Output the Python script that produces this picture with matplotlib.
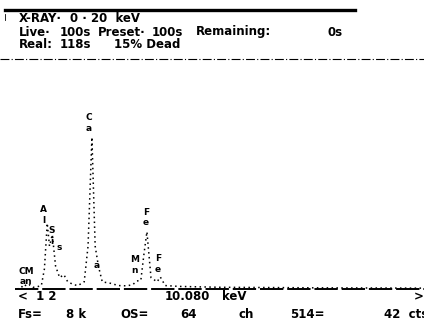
import matplotlib
matplotlib.use("Agg")
import matplotlib.pyplot as plt

# spectrum (keV, counts)
energy = [0.0, 0.2, 0.34, 0.5, 0.64, 0.8, 1.0, 1.2, 1.35, 1.49, 1.6, 1.74, 1.9, 2.1,
          2.31, 2.5, 2.8, 3.0, 3.31, 3.5, 3.69, 3.85, 4.01, 4.2, 4.6, 5.0, 5.4, 5.7,
          5.9, 6.1, 6.25, 6.4, 6.6, 6.9, 7.06, 7.3, 8.0, 10.0, 15.0, 20.0]
counts = [0, 40, 160, 90, 150, 60, 80, 120, 700, 2300, 1500, 1900, 800, 400,
          500, 250, 150, 120, 250, 1500, 5300, 1500, 800, 250, 200, 120, 110, 150,
          280, 300, 1200, 2000, 400, 250, 420, 120, 90, 60, 40, 30]

# peak labels: element text, keV, counts where the label sits
peak_names = ["C\na", "A\nl", "S\ni", "s", "F\ne", "M\nn", "F\ne", "a"]
peak_kev = [3.55, 1.3, 1.7, 2.1, 6.35, 5.8, 6.95, 3.95]
peak_top = [5450, 2250, 1500, 1300, 2150, 500, 520, 650]

hdr_font = {"family": "DejaVu Sans", "size": 8.5, "weight": "bold"}

W, H = 424, 327
fig = plt.figure(figsize=(W / 100, H / 100), dpi=100)
fig.patch.set_facecolor("white")


def px(x, y):
    return x / W, 1 - y / H


# header block
fig.add_artist(plt.Line2D([5 / W, 355 / W], [1 - 10 / H] * 2, color="black", lw=2.4))
fig.add_artist(plt.Line2D([5 / W, 5 / W], [1 - 14 / H, 1 - 20 / H], color="black", lw=0.6))
fig.add_artist(plt.Line2D([0, 1], [1 - 59 / H] * 2, color="black", lw=0.8,
                          ls=(0, (8, 2, 1, 2))))

header = [
    (19, 19, "X-RAY·"), (70, 19, "0 · 20  keV"),
    (19, 32, "Live·"), (60, 32, "100s"), (98, 32, "Preset·"), (152, 32, "100s"),
    (196, 32, "Remaining:"), (328, 32, "0s"),
    (19, 45, "Real:"), (60, 45, "118s"), (114, 45, "15% Dead"),
]
for x, y, s in header:
    fig.text(*px(x, y), s, ha="left", va="center", fontdict=hdr_font)

# spectrum
ax = fig.add_axes([17 / W, 1 - 289 / H, 406 / W, (289 - 70) / H])
ax.plot(energy, counts, color="black", lw=1.1, ls=(0, (1, 2.2)))
ax.set_xlim(0, 20)
ax.set_ylim(0, 8000 * (289 - 70) / 229)
ax.axis("off")

for name, e, c in zip(peak_names, peak_kev, peak_top):
    ax.text(e, c, name, ha="center", va="bottom", fontsize=6.5, fontweight="bold",
            linespacing=1.25, family="DejaVu Sans")
ax.text(0.45, 120, "CM\nan", ha="center", va="bottom", fontsize=6.5,
        fontweight="bold", linespacing=1.1, family="DejaVu Sans")

# baseline
fig.add_artist(plt.Line2D([15 / W, 1], [1 - 289 / H] * 2, color="black", lw=1.4,
                          ls=(0, (12, 2))))

# footer
footer = [
    (18, 297, "<  1 2"), (165, 297, "10.080"), (222, 297, "keV"), (414, 297, ">"),
    (18, 314, "Fs="), (66, 314, "8 k"), (120, 314, "OS="),
    (180, 314, "64"), (238, 314, "ch"), (290, 314, "514="), (384, 314, "42  cts"),
]
for x, y, s in footer:
    fig.text(*px(x, y), s, ha="left", va="center", fontdict=hdr_font)

fig.savefig("out.png", dpi=100, facecolor="white")
